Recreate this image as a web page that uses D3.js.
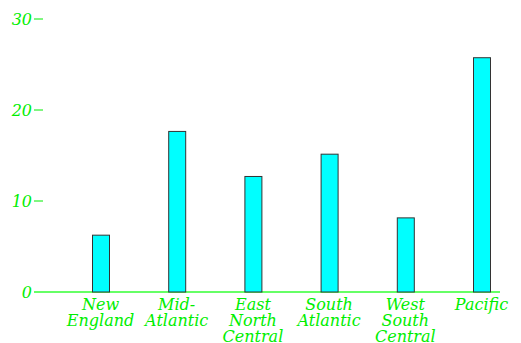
<!DOCTYPE html>
<html><head><meta charset="utf-8">
<script src="https://cdn.jsdelivr.net/npm/d3@7"></script>
<style>body{margin:0;background:#fff}svg{display:block}
text{font-family:'DejaVu Serif',serif;font-style:italic;font-size:16px}</style>
</head><body>
<svg id="c" width="521" height="343"></svg>
<script>
const categories = [["New","England"],["Mid-","Atlantic"],["East","North","Central"],["South","Atlantic"],["West","South","Central"],["Pacific"]];
const values = [6.3, 17.7, 12.75, 15.2, 8.2, 25.8];
const yTicks = [0, 10, 20, 30];

const svg = d3.select("#c");
const green = "#00ee00";
const x = d3.scaleBand().domain(d3.range(categories.length)).range([62.4, 519.6]).paddingInner(0.77).paddingOuter(0.385);
const y = d3.scaleLinear().domain([0, 30]).range([292, 19]);

// axis baseline
svg.append("line").attr("x1", 34).attr("x2", 500).attr("y1", y(0)).attr("y2", y(0))
  .attr("stroke", "#66ff66").attr("stroke-width", 2);

// y ticks
const yg = svg.append("g");
yTicks.forEach(t => {
  yg.append("text").attr("x", 32).attr("y", y(t) + 6).attr("text-anchor", "end")
    .attr("fill", green).text(t);
  if (t !== 0) yg.append("line").attr("x1", 34).attr("x2", 43).attr("y1", y(t)).attr("y2", y(t))
    .attr("stroke", green).attr("stroke-width", 1);
});

// bars
const bw = 17;
svg.selectAll("rect.bar").data(values).enter().append("rect")
  .attr("x", (d, i) => x(i) + x.bandwidth() / 2 - bw / 2 + 0.5)
  .attr("y", d => y(d) + 0.5)
  .attr("width", bw)
  .attr("height", d => y(0) - y(d) - 0.5)
  .attr("fill", "#00ffff").attr("stroke", "#333333").attr("stroke-width", 1);

// x labels
categories.forEach((lines, i) => {
  const cx = x(i) + x.bandwidth() / 2;
  const t = svg.append("text").attr("text-anchor", "middle").attr("fill", green);
  lines.forEach((l, j) => t.append("tspan").attr("x", cx).attr("y", 309.5 + j * 16.3).text(l));
});
</script>
</body></html>
